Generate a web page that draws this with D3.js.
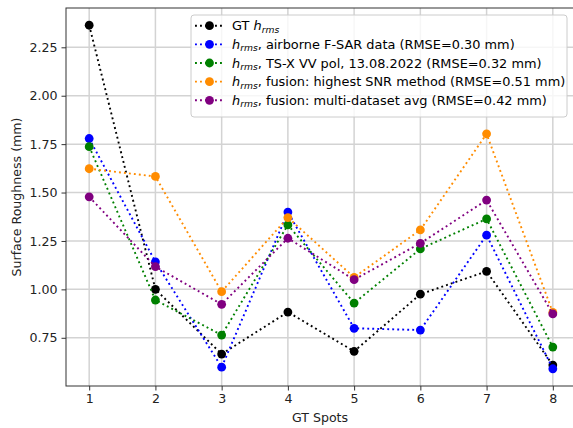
<!DOCTYPE html>
<html>
<head>
<meta charset="utf-8">
<script src="https://cdn.jsdelivr.net/npm/d3@7"></script>
<style>
  body { margin: 0; background: #fff; }
  svg { display: block; font-family: "DejaVu Sans", sans-serif; }
</style>
</head>
<body>
<script>
// GT spots
const spots = [1, 2, 3, 4, 5, 6, 7, 8]
const yTicks = [0.75, 1.00, 1.25, 1.50, 1.75, 2.00, 2.25]

// hrms values (mm)
const gt      = [2.364, 1.000, 0.666, 0.883, 0.680, 0.975, 1.093, 0.609]
const fsar    = [1.779, 1.142, 0.598, 1.399, 0.799, 0.790, 1.280, 0.590]
const tsx     = [1.737, 0.945, 0.764, 1.333, 0.929, 1.209, 1.364, 0.702]
const snr     = [1.623, 1.583, 0.988, 1.371, 1.062, 1.307, 1.803, 0.881]
const avg     = [1.478, 1.117, 0.923, 1.264, 1.050, 1.238, 1.461, 0.873]

const series = [
  { vals: gt,   color: '#000000', pre: 'GT ', label: '' },
  { vals: fsar, color: '#0000ff', pre: '', label: ', airborne F-SAR data (RMSE=0.30 mm)' },
  { vals: tsx,  color: '#008000', pre: '', label: ', TS-X VV pol, 13.08.2022 (RMSE=0.32 mm)' },
  { vals: snr,  color: '#ff8c00', pre: '', label: ', fusion: highest SNR method (RMSE=0.51 mm)' },
  { vals: avg,  color: '#800080', pre: '', label: ', fusion: multi-dataset avg (RMSE=0.42 mm)' }
]

var W = 573, H = 428
var pL = 66, pR = 576, pT = 8, pB = 386

var svg = d3.select('body').append('svg')
    .attr('width', W)
    .attr('height', H)

var x = d3.scaleLinear().domain([0.65, 8.35]).range([pL, pR])
var y = d3.scaleLinear().domain([0.501, 2.453]).range([pB, pT])

// grid
var grid = svg.append('g')
grid.selectAll('line.gx')
  .data(spots)
  .enter().append('line')
    .attr('x1', d => x(d)).attr('x2', d => x(d))
    .attr('y1', pT).attr('y2', pB)
    .attr('stroke', '#d3d3d3').attr('stroke-width', 1.5)
grid.selectAll('line.gy')
  .data(yTicks)
  .enter().append('line')
    .attr('x1', pL).attr('x2', pR)
    .attr('y1', d => y(d)).attr('y2', d => y(d))
    .attr('stroke', '#d3d3d3').attr('stroke-width', 1.5)

// axes
var xAxis = svg.append('g')
    .attr('transform', `translate(0,${pB})`)
    .call(d3.axisBottom(x).tickValues(spots).tickFormat(d3.format('d')).tickSize(4.5).tickPadding(4))
var yAxis = svg.append('g')
    .attr('transform', `translate(${pL},0)`)
    .call(d3.axisLeft(y).tickValues(yTicks).tickFormat(d3.format('.2f')).tickSize(4.5).tickPadding(4))

;[xAxis, yAxis].forEach(a => {
  a.select('.domain').remove()
  a.selectAll('line').attr('stroke', '#333')
  a.selectAll('text').attr('fill', '#222').style('font-size', '12.6px')
    .style('font-family', '"DejaVu Sans", sans-serif')
})

// spines
svg.append('rect')
    .attr('x', pL).attr('y', pT)
    .attr('width', pR - pL).attr('height', pB - pT)
    .attr('fill', 'none').attr('stroke', '#333').attr('stroke-width', 1)

// labels
svg.append('text')
    .attr('x', (pL + pR) / 2 - 1).attr('y', 422)
    .attr('text-anchor', 'middle').attr('fill', '#222')
    .style('font-size', '12.6px')
    .text('GT Spots')
svg.append('text')
    .attr('transform', `translate(21,${(pT + pB) / 2}) rotate(-90)`)
    .attr('text-anchor', 'middle').attr('fill', '#222')
    .style('font-size', '12.6px')
    .text('Surface Roughness (mm)')

// lines + markers
var line = d3.line().x((d, i) => x(spots[i])).y(d => y(d))
series.forEach(s => {
  var g = svg.append('g')
  g.append('path')
    .attr('d', line(s.vals))
    .attr('fill', 'none')
    .attr('stroke', s.color)
    .attr('stroke-width', 1.9)
    .attr('stroke-dasharray', '1.9,3.1')
  g.selectAll('circle')
    .data(s.vals)
    .enter().append('circle')
      .attr('cx', (d, i) => x(spots[i]))
      .attr('cy', d => y(d))
      .attr('r', 4.4)
      .attr('fill', s.color)
})

// legend
var lg = svg.append('g')
lg.append('rect')
    .attr('x', 191).attr('y', 15)
    .attr('width', 376).attr('height', 102)
    .attr('rx', 3)
    .attr('fill', 'white').attr('fill-opacity', 0.8)
    .attr('stroke', '#cccccc').attr('stroke-width', 1)

series.forEach((s, i) => {
  var ry = 25.7 + i * 18.65
  lg.append('line')
    .attr('x1', 195).attr('x2', 224)
    .attr('y1', ry).attr('y2', ry)
    .attr('stroke', s.color).attr('stroke-width', 1.9)
    .attr('stroke-dasharray', '1.9,3.1')
  lg.append('circle')
    .attr('cx', 209.5).attr('cy', ry).attr('r', 4.4)
    .attr('fill', s.color)
  var t = lg.append('text')
    .attr('x', 232).attr('y', ry + 4.6)
    .attr('fill', '#000')
    .style('font-size', '12.9px')
  if (s.pre) t.append('tspan').text(s.pre)
  t.append('tspan').style('font-style', 'italic').text('h')
  t.append('tspan').style('font-style', 'italic').style('font-size', '9.2px')
    .attr('dy', 2.3).text('rms')
  t.append('tspan').attr('dy', -2.3).text(s.label)
})
</script>
</body>
</html>
